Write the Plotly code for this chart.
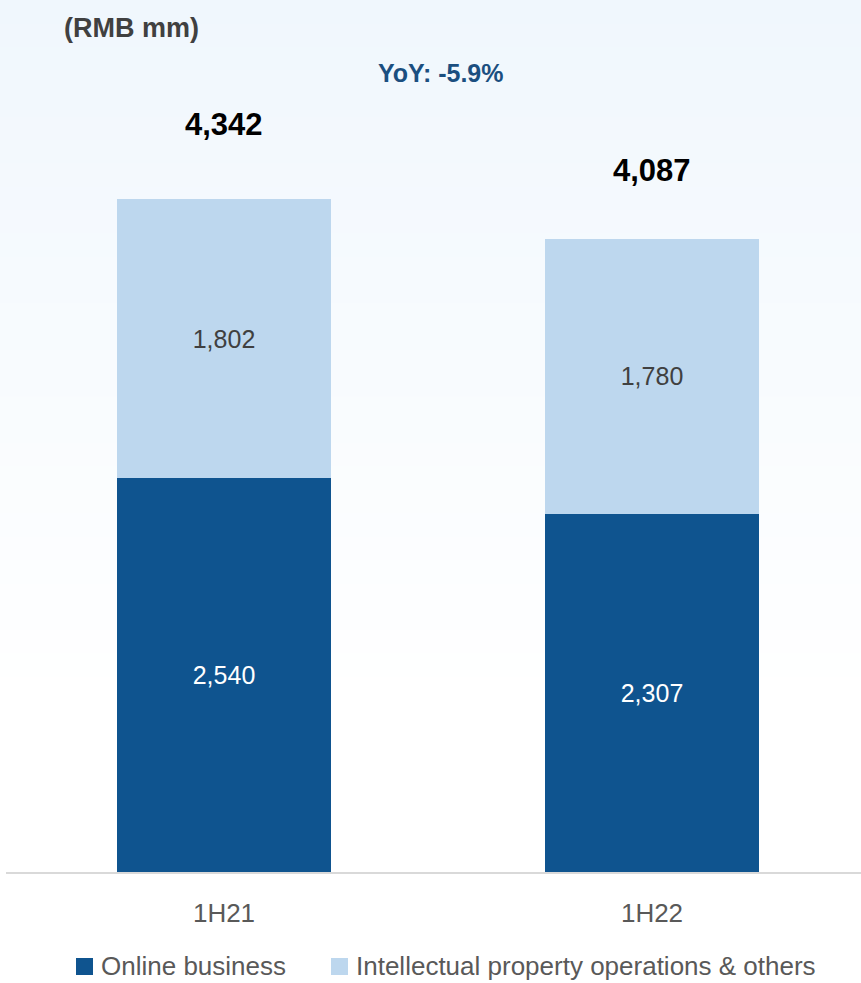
import plotly.graph_objects as go

# Revenue breakdown, RMB mm
periods = ["1H21", "1H22"]
online_business = [2540, 2307]
ip_operations = [1802, 1780]
totals = [4342, 4087]
series_names = ["Online business", "Intellectual property operations & others"]
yoy_label = "YoY: -5.9%"
unit_label = "(RMB mm)"

DARK = "#0f548f"
LIGHT = "#bdd7ee"
FONT = "Liberation Sans, Arial, sans-serif"

W, H = 861, 983
left = 6
plot_bottom = 872
plot_w = W - left
px_per_unit = 673 / 4342


def px(xp):
    return (xp - left) / plot_w


def py(yp):
    return (plot_bottom - yp) / plot_bottom


fig = go.Figure()

fig.add_trace(go.Bar(
    x=periods, y=online_business, name=series_names[0],
    marker=dict(color=DARK, line=dict(width=0)),
    text=[f"{v:,}" for v in online_business], textposition="inside",
    insidetextanchor="middle", textangle=0,
    textfont=dict(color="white", size=25, family=FONT),
    width=0.5, hoverinfo="skip",
))
fig.add_trace(go.Bar(
    x=periods, y=ip_operations, name=series_names[1],
    marker=dict(color=LIGHT, line=dict(width=0)),
    text=[f"{v:,}" for v in ip_operations], textposition="inside",
    insidetextanchor="middle", textangle=0,
    textfont=dict(color="#404040", size=25, family=FONT),
    width=0.5, hoverinfo="skip",
))

# total labels above each stack
for p, t, dy in zip(periods, totals, [75, 68]):
    fig.add_annotation(x=p, y=t, text=f"<b>{t:,}</b>", showarrow=False,
                       xanchor="center", yshift=dy,
                       font=dict(size=31, color="black", family=FONT))

fig.add_annotation(xref="paper", yref="paper", x=px(441), y=py(73),
                   xanchor="center", yanchor="middle",
                   text=f"<b>{yoy_label}</b>", showarrow=False,
                   font=dict(size=25, color="#1b4f80", family=FONT))
fig.add_annotation(xref="paper", yref="paper", x=px(131), y=py(28),
                   xanchor="center", yanchor="middle",
                   text=f"<b>{unit_label}</b>", showarrow=False,
                   font=dict(size=27, color="#404040", family=FONT))

# legend drawn as swatches + labels along the bottom edge
for name, color, sx in zip(series_names, [DARK, LIGHT], [76, 331]):
    fig.add_shape(type="rect", xref="paper", yref="paper",
                  x0=px(sx), x1=px(sx + 17), y0=py(975), y1=py(958),
                  fillcolor=color, line=dict(width=0))
    fig.add_annotation(xref="paper", yref="paper", x=px(sx + 23), y=py(966),
                       xanchor="left", yanchor="middle", text=name, showarrow=False,
                       font=dict(size=26, color="#595959", family=FONT))

# soft blue wash fading to white towards the bottom
bands = 30
top_rgb = (240, 247, 253)
fade_end = 700
for i in range(bands):
    y0 = i * fade_end / bands
    y1 = (i + 1) * fade_end / bands + 1
    f = i / (bands - 1)
    c = tuple(round(a + (255 - a) * f) for a in top_rgb)
    fig.add_shape(type="rect", xref="paper", yref="paper", layer="below",
                  x0=-0.1, x1=1.1, y0=py(y1), y1=py(y0),
                  fillcolor=f"rgb{c}", line=dict(width=0))

x0 = -(224 - left) / 428
x1 = x0 + plot_w / 428

fig.update_layout(
    width=W, height=H,
    margin=dict(l=left, r=0, t=0, b=H - plot_bottom, autoexpand=False),
    barmode="stack",
    paper_bgcolor="white", plot_bgcolor="rgba(0,0,0,0)",
    showlegend=False,
    xaxis=dict(range=[x0, x1], showgrid=False, zeroline=False, automargin=False,
               showline=True, linecolor="#d9d9d9", linewidth=2,
               ticks="", tickfont=dict(size=26, color="#595959", family=FONT),
               ticklabelstandoff=17),
    yaxis=dict(range=[0, plot_bottom / px_per_unit], visible=False, automargin=False),
    font=dict(family=FONT),
)

fig.write_html("out.html")
